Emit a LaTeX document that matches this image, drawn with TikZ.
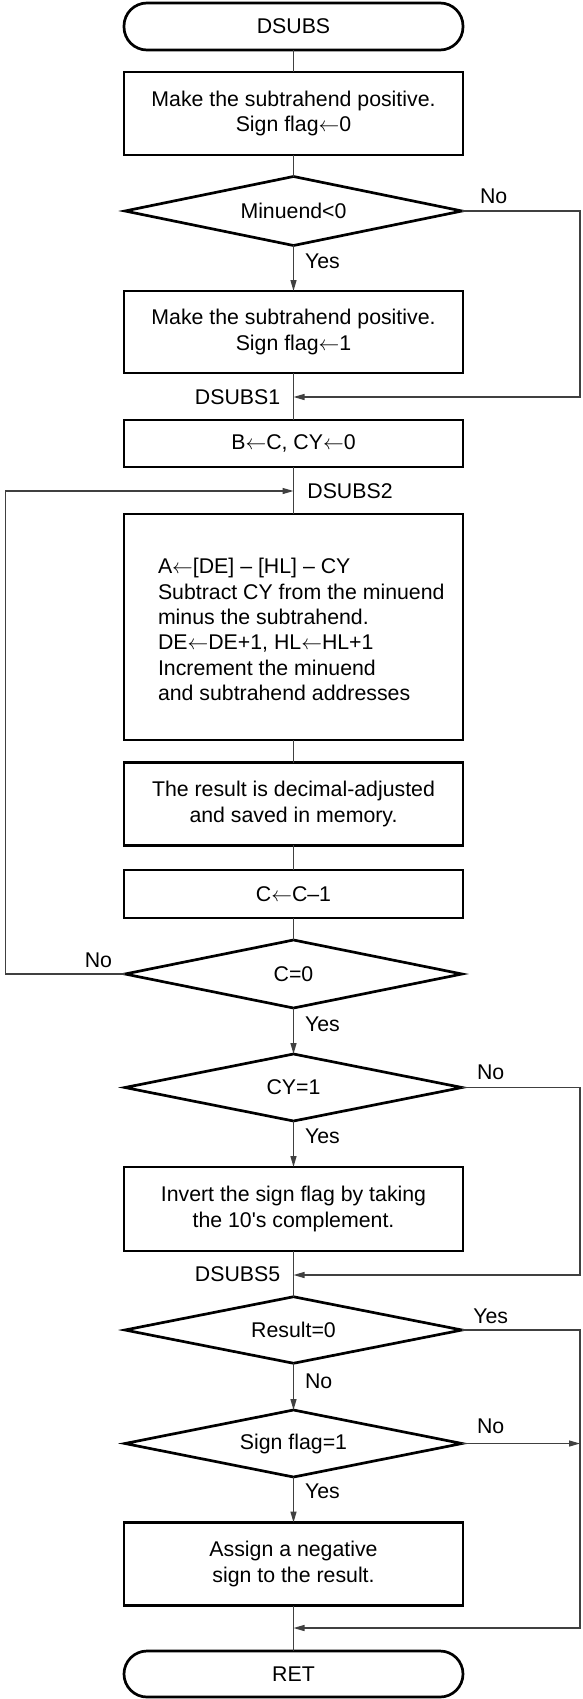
\documentclass[tikz,border=0pt]{standalone}
\usepackage{fontspec}
\setmainfont{Liberation Sans}
\usetikzlibrary{shapes.geometric,arrows.meta}

\begin{document}
\begin{tikzpicture}[x=1pt,y=-1pt,
  font=\fontsize{21.3}{25.3}\selectfont,
  shape border/.style={draw, line width=2.7pt, inner sep=0pt, outer sep=0pt},
  proc/.style={shape border, rectangle, minimum width=339pt, align=center},
  term/.style={shape border, rectangle, rounded corners=23pt, minimum width=339pt, minimum height=47pt},
  decision/.style={shape border, diamond, aspect=5, minimum width=337pt, minimum height=68pt},
  flow/.style={line width=1.3pt, draw=black!75},
  arr/.style={flow, -{Triangle[length=11pt,width=6pt]}},
  lbl/.style={inner sep=0pt, outer sep=0pt}
]
% canvas
\fill[white] (0,0) rectangle (582,1699);
\useasboundingbox (0,0) rectangle (582,1699);

% rails for the return paths
\coordinate (rx) at (580,0);
\coordinate (lx) at (5.6,0);

% main column
\node[term] (start) at (293.5,26.5) {DSUBS};
\node[proc, minimum height=83pt] (b1) at (293.5,113.5) {Make the subtrahend positive.\\Sign flag$\leftarrow$0};
\node[decision, minimum height=69pt] (d1) at (293.5,211) {Minuend<0};
\node[proc, minimum height=82pt] (b2) at (293.5,332) {Make the subtrahend positive.\\Sign flag$\leftarrow$1};
\coordinate (j1) at (293.5,397);
\node[proc, minimum height=47pt] (b3) at (293.5,443.5) {B$\leftarrow$C, CY$\leftarrow$0};
\coordinate (j2) at (293.5,491);
\node[proc, minimum height=226pt] (b4) at (293.5,627) {};
\node[lbl, anchor=west, align=left] (b4t) at (158,629.6) {A$\leftarrow$[DE] -- [HL] -- CY\\Subtract CY from the minuend\\minus the subtrahend.\\DE$\leftarrow$DE+1, HL$\leftarrow$HL+1\\Increment the minuend\\and subtrahend addresses};
\node[proc, minimum height=82.5pt] (b5) at (293.5,804) {The result is decimal-adjusted\\and saved in memory.};
\node[proc, minimum height=48pt] (b6) at (293.5,894) {C$\leftarrow$C--1};
\node[decision] (d2) at (293.5,974) {C=0};
\node[decision, minimum height=67pt] (d3) at (293.5,1087.5) {CY=1};
\node[proc, minimum height=84pt] (b7) at (293.5,1209) {Invert the sign flag by taking\\the 10\textquotesingle s complement.};
\coordinate (j5) at (293.5,1275);
\node[decision, minimum height=66.5pt] (d4) at (293.5,1330) {Result=0};
\node[decision, minimum height=67pt] (d5) at (293.5,1443.5) {Sign flag=1};
\node[proc, minimum height=83pt] (b8) at (293.5,1564) {Assign a negative\\sign to the result.};
\coordinate (j6) at (293.5,1628);
\node[term, minimum height=46pt] (ret) at (293.5,1674) {RET};

% straight flow
\draw[flow] (start) -- (b1);
\draw[flow] (b1) -- (d1);
\draw[arr] (d1) -- (b2);
\draw[flow] (b2) -- (b3);
\draw[flow] (b3) -- (b4);
\draw[flow] (b4) -- (b5);
\draw[flow] (b5) -- (b6);
\draw[flow] (b6) -- (d2);
\draw[arr] (d2) -- (d3);
\draw[arr] (d3) -- (b7);
\draw[flow] (b7) -- (d4);
\draw[arr] (d4) -- (d5);
\draw[arr] (d5) -- (b8);
\draw[flow] (b8) -- (ret);

% branches
\draw[arr] (d1.east) -| (rx |- j1) -- (j1);
\draw[arr] (d2.west) -| (lx |- j2) -- (j2);
\draw[arr] (d3.east) -| (rx |- j5) -- (j5);
\draw[arr] (d4.east) -| (rx |- j6) -- (j6);
\draw[arr] (d5.east) -- (rx |- d5.east);

% labels
\node[lbl] (no1) at (493.7,196) {No};
\node[lbl, anchor=west] (yes1) at (305,261) {Yes};
\node[lbl] (lab1) at (237.6,397) {DSUBS1};
\node[lbl] (lab2) at (350,491.5) {DSUBS2};
\node[lbl] (no2) at (98.4,960) {No};
\node[lbl, anchor=west] (yes2) at (305,1024.3) {Yes};
\node[lbl] (no3) at (490.7,1072.3) {No};
\node[lbl, anchor=west] (yes3) at (305,1136.7) {Yes};
\node[lbl] (lab5) at (237.6,1274) {DSUBS5};
\node[lbl] (yes4) at (490.7,1316.7) {Yes};
\node[lbl, anchor=west] (no4) at (305,1381.7) {No};
\node[lbl] (no5) at (490.7,1426) {No};
\node[lbl, anchor=west] (yes5) at (305,1491.7) {Yes};
\end{tikzpicture}
\end{document}
